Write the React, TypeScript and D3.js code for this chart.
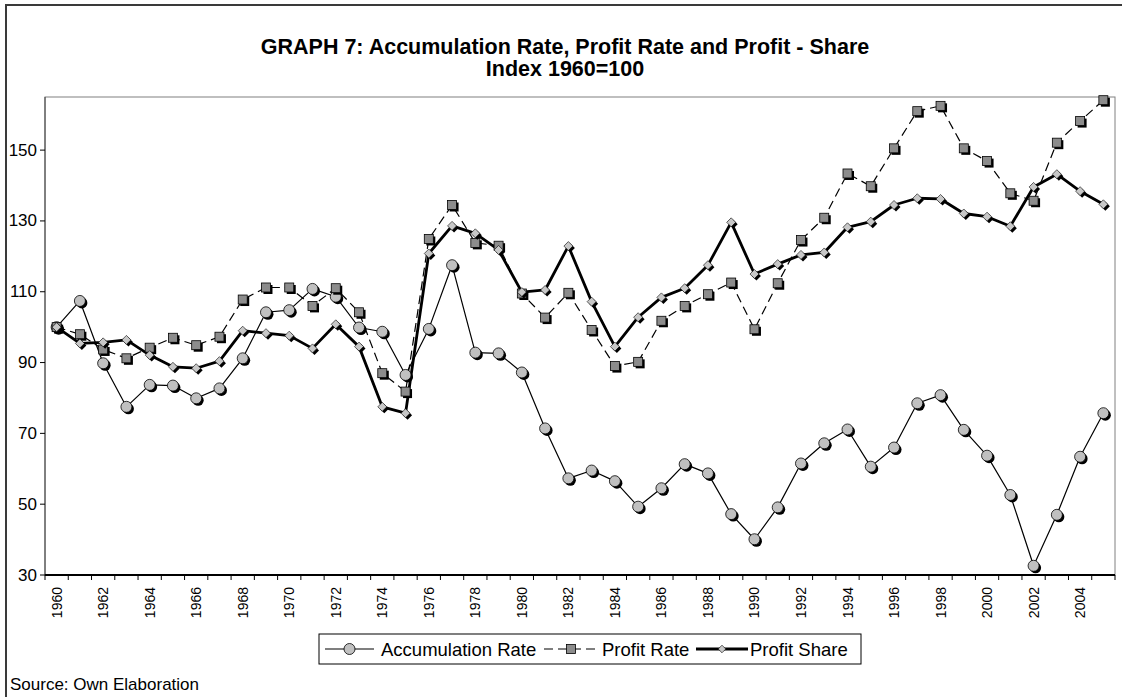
import React from "react";
import * as d3 from "d3";

const years: number[] = [
  1960, 1961, 1962, 1963, 1964, 1965, 1966, 1967, 1968, 1969, 1970, 1971, 1972, 1973, 1974, 1975,
  1976, 1977, 1978, 1979, 1980, 1981, 1982, 1983, 1984, 1985, 1986, 1987, 1988, 1989, 1990, 1991,
  1992, 1993, 1994, 1995, 1996, 1997, 1998, 1999, 2000, 2001, 2002, 2003, 2004, 2005,
];

const accumulationRate: number[] = [
  100, 107.4, 89.8, 77.5, 83.7, 83.5, 79.9, 82.7, 91.2, 104.2, 104.8,
  110.8, 108.6, 99.9, 98.7, 86.5, 99.5, 117.5, 92.8, 92.6, 87.2, 71.4, 57.3,
  59.5, 56.5, 49.3, 54.5, 61.3, 58.7, 47.2, 40.1, 49.1, 61.5, 67.2, 71.1,
  60.6, 66.0, 78.5, 80.8, 71.0, 63.7, 52.6, 32.6, 47.0, 63.4, 75.7,
];

const profitRate: number[] = [
  100, 98.0, 93.7, 91.2, 94.2, 97.0, 94.9, 97.3, 107.8, 111.2, 111.2,
  106.0, 111.0, 104.2, 87.0, 81.8, 124.9, 134.5, 123.8, 123.0, 109.5, 102.7, 109.7,
  99.2, 89.0, 90.2, 101.8, 106.0, 109.3, 112.6, 99.4, 112.4, 124.6, 130.9, 143.4,
  139.8, 150.5, 161.0, 162.5, 150.5, 146.9, 137.8, 135.7, 152.1, 158.2, 164.1,
];

const profitShare: number[] = [
  100, 95.4, 95.7, 96.4, 92.1, 88.8, 88.4, 90.4, 99.0, 98.3, 97.6,
  94.0, 100.8, 94.5, 77.5, 75.7, 120.8, 128.6, 126.5, 121.8, 109.9, 110.5, 122.9,
  107.2, 94.5, 102.8, 108.4, 111.0, 117.5, 129.6, 115.0, 117.8, 120.4, 121.1, 128.2,
  129.8, 134.5, 136.4, 136.2, 132.1, 131.2, 128.5, 139.6, 143.2, 138.4, 134.7,
];

const yTicks: number[] = [30, 50, 70, 90, 110, 130, 150];
const seriesNames: string[] = ["Accumulation Rate", "Profit Rate", "Profit Share"];

const FONT = "'Liberation Sans', Arial, Helvetica, sans-serif";

const W = 1122;
const H = 697;
const plot = { left: 45, top: 97, right: 1115, bottom: 575 };

function Marker({ kind, x, y, shadow }: { kind: string; x: number; y: number; shadow: boolean }) {
  const off = 2;
  if (kind === "circle") {
    return (
      <g>
        {shadow && <circle cx={x + off} cy={y + off} r={5.5} fill="#000" />}
        <circle cx={x} cy={y} r={5.5} fill="#c0c0c0" stroke="#000" strokeWidth={0.8} />
      </g>
    );
  }
  if (kind === "square") {
    const s = 9;
    return (
      <g>
        {shadow && <rect x={x - s / 2 + off} y={y - s / 2 + off} width={s} height={s} fill="#000" />}
        <rect x={x - s / 2} y={y - s / 2} width={s} height={s} fill="#8c8c8c" stroke="#000" strokeWidth={0.8} />
      </g>
    );
  }
  const d = shadow ? 4.5 : 3.8;
  const path = (cx: number, cy: number) =>
    `M${cx},${cy - d}L${cx + d},${cy}L${cx},${cy + d}L${cx - d},${cy}Z`;
  return (
    <g>
      {shadow && <path d={path(x + off, y + off)} fill="#000" />}
      <path d={path(x, y)} fill="#c8c8c8" stroke="#000" strokeWidth={0.6} />
    </g>
  );
}

export default function App() {
  const x = d3
    .scaleBand<number>()
    .domain(years)
    .range([plot.left, plot.right])
    .paddingInner(0)
    .paddingOuter(0);
  const cx = (yr: number) => (x(yr) as number) + x.bandwidth() / 2;
  const y = d3.scaleLinear().domain([30, 165]).range([plot.bottom, plot.top]);

  const series = [
    { name: seriesNames[0], values: accumulationRate, kind: "circle", width: 1.2, dash: "" },
    { name: seriesNames[1], values: profitRate, kind: "square", width: 1.2, dash: "9,5" },
    { name: seriesNames[2], values: profitShare, kind: "diamond", width: 2.8, dash: "" },
  ];

  const line = d3
    .line<number>()
    .x((_, i) => cx(years[i]))
    .y((v) => y(v));

  const boundaries = [...years.map((yr) => x(yr) as number), plot.right];

  // legend layout
  const legend = { x: 319, y: 634, w: 542, h: 30 };
  const legendItems = [
    { sx0: 325, sx1: 374, tx: 381 },
    { sx0: 544, sx1: 598, tx: 602 },
    { sx0: 696, sx1: 748, tx: 750 },
  ];

  return (
    <div style={{ position: "absolute", left: 0, top: 0 }}>
      <svg width={W} height={H} style={{ display: "block", background: "#fff" }} fontFamily={FONT}>
        <rect x={0} y={0} width={W} height={H} fill="#fff" />
        {/* outer chart frame */}
        <rect x={6} y={5} width={W + 20} height={H + 20} fill="none" stroke="#3a3a3a" strokeWidth={2} />

        {/* title */}
        <text x={565} y={54} textAnchor="middle" fontWeight="bold" fontSize={21.5} fill="#000">
          GRAPH 7: Accumulation Rate, Profit Rate and Profit - Share
        </text>
        <text x={565} y={76} textAnchor="middle" fontWeight="bold" fontSize={21.5} fill="#000">
          Index 1960=100
        </text>

        {/* plot frame */}
        <rect
          x={plot.left}
          y={plot.top}
          width={plot.right - plot.left}
          height={plot.bottom - plot.top}
          fill="#fff"
          stroke="#808080"
          strokeWidth={1}
        />
        <line x1={plot.left} x2={plot.left} y1={plot.top} y2={plot.bottom} stroke="#404040" strokeWidth={1} />

        {/* y axis ticks & labels */}
        {yTicks.map((t) => (
          <g key={t}>
            <line x1={plot.left - 5} x2={plot.left} y1={y(t)} y2={y(t)} stroke="#000" strokeWidth={1} />
            <text x={37} y={y(t)} textAnchor="end" dominantBaseline="central" fontSize={17} fill="#000">
              {t}
            </text>
          </g>
        ))}

        {/* x axis */}
        <line x1={plot.left} x2={plot.right} y1={plot.bottom} y2={plot.bottom} stroke="#000" strokeWidth={2} />
        {boundaries.map((bx, i) => (
          <line key={i} x1={bx} x2={bx} y1={plot.bottom} y2={plot.bottom + 5} stroke="#000" strokeWidth={1} />
        ))}
        {years
          .filter((yr) => yr % 2 === 0)
          .map((yr) => (
            <text
              key={yr}
              transform={`translate(${cx(yr)},${plot.bottom + 12}) rotate(-90)`}
              textAnchor="end"
              dominantBaseline="central"
              fontSize={14}
              fill="#000"
            >
              {yr}
            </text>
          ))}

        {/* series lines */}
        {series.map((s) => (
          <path
            key={s.name}
            d={line(s.values) || ""}
            fill="none"
            stroke="#000"
            strokeWidth={s.width}
            strokeDasharray={s.dash || undefined}
            strokeLinejoin="round"
          />
        ))}
        {/* markers */}
        {series.map((s) => (
          <g key={s.name + "m"}>
            {s.values.map((v, i) => (
              <Marker key={i} kind={s.kind} x={cx(years[i])} y={y(v)} shadow={true} />
            ))}
          </g>
        ))}

        {/* legend */}
        <rect x={legend.x} y={legend.y} width={legend.w} height={legend.h} fill="#fff" stroke="#000" strokeWidth={1} />
        {series.map((s, i) => {
          const it = legendItems[i];
          const ly = legend.y + legend.h / 2;
          return (
            <g key={s.name + "l"}>
              <line
                x1={it.sx0}
                x2={it.sx1}
                y1={ly}
                y2={ly}
                stroke="#000"
                strokeWidth={s.width}
                strokeDasharray={s.dash || undefined}
              />
              <Marker kind={s.kind} x={(it.sx0 + it.sx1) / 2} y={ly} shadow={false} />
              <text x={it.tx} y={ly} dominantBaseline="central" fontSize={18.5} fill="#000">
                {s.name}
              </text>
            </g>
          );
        })}

        {/* source */}
        <text x={10} y={690} fontSize={17} fill="#000">
          Source: Own Elaboration
        </text>
      </svg>
    </div>
  );
}
